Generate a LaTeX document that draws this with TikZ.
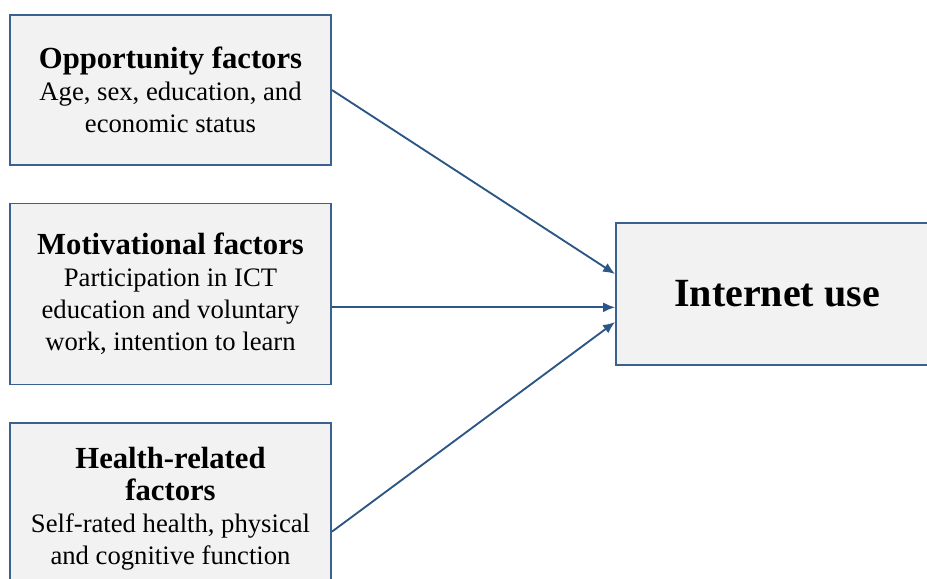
\documentclass[tikz,border=0pt]{standalone}
\usepackage{fontspec}
\setmainfont{Liberation Serif}
\usetikzlibrary{arrows.meta}

\definecolor{boxline}{HTML}{3A6190}
\definecolor{arrowline}{HTML}{2C5685}
\definecolor{boxfill}{HTML}{F2F2F2}

\tikzset{factor/.style={draw=boxline, line width=1.4pt, fill=boxfill, align=center, minimum width=321*0.75pt, inner sep=0pt, font=\fontsize{20}{24}\selectfont}}

\newcommand{\ttl}[1]{{\fontsize{23}{24}\selectfont\bfseries #1}}

\begin{document}
\begin{tikzpicture}[>={Latex[length=9pt, width=7.5pt]}, x=0.75pt, y=-0.75pt]

\useasboundingbox (0,0) rectangle (927,578);
\clip (0,0) rectangle (927,578);

\node[factor, minimum height=150*0.75pt] (opp) at (170.5, 90) {\ttl{Opportunity factors}\\Age, sex, education, and\\economic status};
\node[factor, minimum height=181*0.75pt] (mot) at (170.5, 294) {\ttl{Motivational factors}\\Participation in ICT\\education and voluntary\\work, intention to learn};
\node[factor, minimum height=172*0.75pt] (hlth) at (170.5, 509) {\ttl{Health-related}\\\ttl{factors}\\Self-rated health, physical\\and cognitive function};

\node[factor, minimum height=142*0.75pt, minimum width=322*0.75pt, font=\fontsize{30}{36}\selectfont\bfseries] (net) at (777, 294) {Internet use};

\draw[->, arrowline, line width=1.4pt] (opp.east) -- ([yshift=15pt]net.west);
\draw[->, arrowline, line width=1.4pt] ([yshift=-10pt]mot.east) -- ([yshift=-10pt]net.west);
\draw[->, arrowline, line width=1.4pt] ([yshift=-17pt]hlth.east) -- ([yshift=-21pt]net.west);

\end{tikzpicture}
\end{document}
